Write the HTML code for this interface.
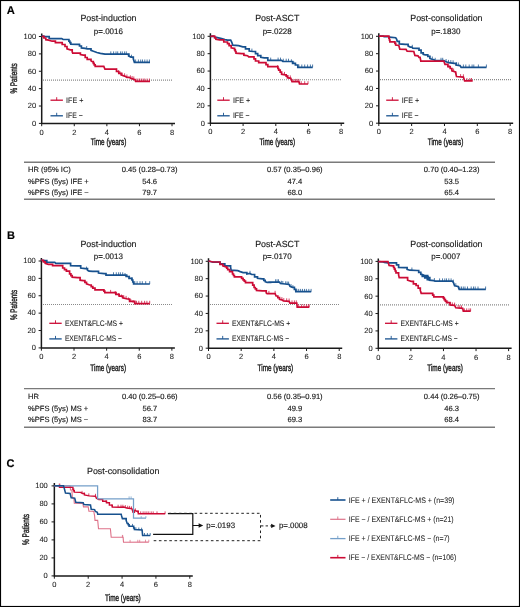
<!DOCTYPE html>
<html><head><meta charset="utf-8"><style>
html,body{margin:0;padding:0;background:#fff;width:520px;height:607px;overflow:hidden;position:relative}
svg text{font-family:"Liberation Sans", sans-serif}
svg{will-change:transform;text-rendering:geometricPrecision}
svg text{stroke:#1a1a1a;stroke-width:0.15px;paint-order:stroke}
</style></head><body>
<svg width="520" height="607" viewBox="0 0 520 607" style="position:absolute;left:0;top:0" font-family='"Liberation Sans", sans-serif'>
<rect x="0" y="0" width="520" height="607" fill="#fff"/>
<rect x="0.5" y="0.5" width="519" height="606" fill="none" stroke="#000" stroke-width="1.15"/>
<text x="6.70" y="14.40" font-size="11.2" text-anchor="start" font-weight="bold" fill="#000" >A</text>
<text x="6.90" y="239.30" font-size="11.0" text-anchor="start" font-weight="bold" fill="#000" >B</text>
<text x="6.60" y="467.20" font-size="11.0" text-anchor="start" font-weight="bold" fill="#000" >C</text>
<line x1="43" y1="80.15" x2="173" y2="80.15" stroke="#8a8a8a" stroke-width="1.1" stroke-dasharray="1 1"/>
<path d="M41.70 33.50 V123.40 H175.02" fill="none" stroke="#1a1a1a" stroke-width="1.5"/>
<line x1="38.90" y1="123.40" x2="41.70" y2="123.40" stroke="#1a1a1a" stroke-width="1"/>
<text x="36.10" y="125.75" font-size="7.5" text-anchor="end" font-weight="normal" fill="#1a1a1a" style="stroke-width:0.08px">0</text>
<line x1="38.90" y1="106.02" x2="41.70" y2="106.02" stroke="#1a1a1a" stroke-width="1"/>
<text x="36.10" y="108.37" font-size="7.5" text-anchor="end" font-weight="normal" fill="#1a1a1a" style="stroke-width:0.08px">20</text>
<line x1="38.90" y1="88.64" x2="41.70" y2="88.64" stroke="#1a1a1a" stroke-width="1"/>
<text x="36.10" y="90.99" font-size="7.5" text-anchor="end" font-weight="normal" fill="#1a1a1a" style="stroke-width:0.08px">40</text>
<line x1="38.90" y1="71.26" x2="41.70" y2="71.26" stroke="#1a1a1a" stroke-width="1"/>
<text x="36.10" y="73.61" font-size="7.5" text-anchor="end" font-weight="normal" fill="#1a1a1a" style="stroke-width:0.08px">60</text>
<line x1="38.90" y1="53.88" x2="41.70" y2="53.88" stroke="#1a1a1a" stroke-width="1"/>
<text x="36.10" y="56.23" font-size="7.5" text-anchor="end" font-weight="normal" fill="#1a1a1a" style="stroke-width:0.08px">80</text>
<line x1="38.90" y1="36.50" x2="41.70" y2="36.50" stroke="#1a1a1a" stroke-width="1"/>
<text x="36.10" y="38.85" font-size="7.5" text-anchor="end" font-weight="normal" fill="#1a1a1a" style="stroke-width:0.08px">100</text>
<line x1="41.70" y1="123.40" x2="41.70" y2="126.20" stroke="#1a1a1a" stroke-width="1"/>
<text x="41.70" y="134.60" font-size="7.5" text-anchor="middle" font-weight="normal" fill="#1a1a1a" style="stroke-width:0.08px">0</text>
<line x1="74.28" y1="123.40" x2="74.28" y2="126.20" stroke="#1a1a1a" stroke-width="1"/>
<text x="74.28" y="134.60" font-size="7.5" text-anchor="middle" font-weight="normal" fill="#1a1a1a" style="stroke-width:0.08px">2</text>
<line x1="106.86" y1="123.40" x2="106.86" y2="126.20" stroke="#1a1a1a" stroke-width="1"/>
<text x="106.86" y="134.60" font-size="7.5" text-anchor="middle" font-weight="normal" fill="#1a1a1a" style="stroke-width:0.08px">4</text>
<line x1="139.44" y1="123.40" x2="139.44" y2="126.20" stroke="#1a1a1a" stroke-width="1"/>
<text x="139.44" y="134.60" font-size="7.5" text-anchor="middle" font-weight="normal" fill="#1a1a1a" style="stroke-width:0.08px">6</text>
<line x1="172.02" y1="123.40" x2="172.02" y2="126.20" stroke="#1a1a1a" stroke-width="1"/>
<text x="172.02" y="134.60" font-size="7.5" text-anchor="middle" font-weight="normal" fill="#1a1a1a" style="stroke-width:0.08px">8</text>
<text x="108.50" y="21.20" font-size="8.85" text-anchor="middle" font-weight="normal" fill="#1a1a1a" >Post-induction</text>
<text x="108.40" y="33.50" font-size="8" text-anchor="middle" font-weight="normal" fill="#1a1a1a" >p=.0016</text>
<line x1="212" y1="79.8" x2="342" y2="79.8" stroke="#8a8a8a" stroke-width="1.1" stroke-dasharray="1 1"/>
<path d="M210.40 33.30 V123.20 H344.20" fill="none" stroke="#1a1a1a" stroke-width="1.5"/>
<line x1="207.60" y1="123.20" x2="210.40" y2="123.20" stroke="#1a1a1a" stroke-width="1"/>
<text x="204.80" y="125.55" font-size="7.5" text-anchor="end" font-weight="normal" fill="#1a1a1a" style="stroke-width:0.08px">0</text>
<line x1="207.60" y1="105.82" x2="210.40" y2="105.82" stroke="#1a1a1a" stroke-width="1"/>
<text x="204.80" y="108.17" font-size="7.5" text-anchor="end" font-weight="normal" fill="#1a1a1a" style="stroke-width:0.08px">20</text>
<line x1="207.60" y1="88.44" x2="210.40" y2="88.44" stroke="#1a1a1a" stroke-width="1"/>
<text x="204.80" y="90.79" font-size="7.5" text-anchor="end" font-weight="normal" fill="#1a1a1a" style="stroke-width:0.08px">40</text>
<line x1="207.60" y1="71.06" x2="210.40" y2="71.06" stroke="#1a1a1a" stroke-width="1"/>
<text x="204.80" y="73.41" font-size="7.5" text-anchor="end" font-weight="normal" fill="#1a1a1a" style="stroke-width:0.08px">60</text>
<line x1="207.60" y1="53.68" x2="210.40" y2="53.68" stroke="#1a1a1a" stroke-width="1"/>
<text x="204.80" y="56.03" font-size="7.5" text-anchor="end" font-weight="normal" fill="#1a1a1a" style="stroke-width:0.08px">80</text>
<line x1="207.60" y1="36.30" x2="210.40" y2="36.30" stroke="#1a1a1a" stroke-width="1"/>
<text x="204.80" y="38.65" font-size="7.5" text-anchor="end" font-weight="normal" fill="#1a1a1a" style="stroke-width:0.08px">100</text>
<line x1="210.40" y1="123.20" x2="210.40" y2="126.00" stroke="#1a1a1a" stroke-width="1"/>
<text x="210.40" y="134.40" font-size="7.5" text-anchor="middle" font-weight="normal" fill="#1a1a1a" style="stroke-width:0.08px">0</text>
<line x1="243.10" y1="123.20" x2="243.10" y2="126.00" stroke="#1a1a1a" stroke-width="1"/>
<text x="243.10" y="134.40" font-size="7.5" text-anchor="middle" font-weight="normal" fill="#1a1a1a" style="stroke-width:0.08px">2</text>
<line x1="275.80" y1="123.20" x2="275.80" y2="126.00" stroke="#1a1a1a" stroke-width="1"/>
<text x="275.80" y="134.40" font-size="7.5" text-anchor="middle" font-weight="normal" fill="#1a1a1a" style="stroke-width:0.08px">4</text>
<line x1="308.50" y1="123.20" x2="308.50" y2="126.00" stroke="#1a1a1a" stroke-width="1"/>
<text x="308.50" y="134.40" font-size="7.5" text-anchor="middle" font-weight="normal" fill="#1a1a1a" style="stroke-width:0.08px">6</text>
<line x1="341.20" y1="123.20" x2="341.20" y2="126.00" stroke="#1a1a1a" stroke-width="1"/>
<text x="341.20" y="134.40" font-size="7.5" text-anchor="middle" font-weight="normal" fill="#1a1a1a" style="stroke-width:0.08px">8</text>
<text x="277.30" y="21.20" font-size="8.85" text-anchor="middle" font-weight="normal" fill="#1a1a1a" >Post-ASCT</text>
<text x="277.20" y="33.50" font-size="8" text-anchor="middle" font-weight="normal" fill="#1a1a1a" >p=.0228</text>
<line x1="380" y1="79.6" x2="511" y2="79.6" stroke="#8a8a8a" stroke-width="1.1" stroke-dasharray="1 1"/>
<path d="M378.80 33.30 V123.20 H513.16" fill="none" stroke="#1a1a1a" stroke-width="1.5"/>
<line x1="376.00" y1="123.20" x2="378.80" y2="123.20" stroke="#1a1a1a" stroke-width="1"/>
<text x="373.20" y="125.55" font-size="7.5" text-anchor="end" font-weight="normal" fill="#1a1a1a" style="stroke-width:0.08px">0</text>
<line x1="376.00" y1="105.82" x2="378.80" y2="105.82" stroke="#1a1a1a" stroke-width="1"/>
<text x="373.20" y="108.17" font-size="7.5" text-anchor="end" font-weight="normal" fill="#1a1a1a" style="stroke-width:0.08px">20</text>
<line x1="376.00" y1="88.44" x2="378.80" y2="88.44" stroke="#1a1a1a" stroke-width="1"/>
<text x="373.20" y="90.79" font-size="7.5" text-anchor="end" font-weight="normal" fill="#1a1a1a" style="stroke-width:0.08px">40</text>
<line x1="376.00" y1="71.06" x2="378.80" y2="71.06" stroke="#1a1a1a" stroke-width="1"/>
<text x="373.20" y="73.41" font-size="7.5" text-anchor="end" font-weight="normal" fill="#1a1a1a" style="stroke-width:0.08px">60</text>
<line x1="376.00" y1="53.68" x2="378.80" y2="53.68" stroke="#1a1a1a" stroke-width="1"/>
<text x="373.20" y="56.03" font-size="7.5" text-anchor="end" font-weight="normal" fill="#1a1a1a" style="stroke-width:0.08px">80</text>
<line x1="376.00" y1="36.30" x2="378.80" y2="36.30" stroke="#1a1a1a" stroke-width="1"/>
<text x="373.20" y="38.65" font-size="7.5" text-anchor="end" font-weight="normal" fill="#1a1a1a" style="stroke-width:0.08px">100</text>
<line x1="378.80" y1="123.20" x2="378.80" y2="126.00" stroke="#1a1a1a" stroke-width="1"/>
<text x="378.80" y="134.40" font-size="7.5" text-anchor="middle" font-weight="normal" fill="#1a1a1a" style="stroke-width:0.08px">0</text>
<line x1="411.64" y1="123.20" x2="411.64" y2="126.00" stroke="#1a1a1a" stroke-width="1"/>
<text x="411.64" y="134.40" font-size="7.5" text-anchor="middle" font-weight="normal" fill="#1a1a1a" style="stroke-width:0.08px">2</text>
<line x1="444.48" y1="123.20" x2="444.48" y2="126.00" stroke="#1a1a1a" stroke-width="1"/>
<text x="444.48" y="134.40" font-size="7.5" text-anchor="middle" font-weight="normal" fill="#1a1a1a" style="stroke-width:0.08px">4</text>
<line x1="477.32" y1="123.20" x2="477.32" y2="126.00" stroke="#1a1a1a" stroke-width="1"/>
<text x="477.32" y="134.40" font-size="7.5" text-anchor="middle" font-weight="normal" fill="#1a1a1a" style="stroke-width:0.08px">6</text>
<line x1="510.16" y1="123.20" x2="510.16" y2="126.00" stroke="#1a1a1a" stroke-width="1"/>
<text x="510.16" y="134.40" font-size="7.5" text-anchor="middle" font-weight="normal" fill="#1a1a1a" style="stroke-width:0.08px">8</text>
<text x="446.40" y="21.20" font-size="8.85" text-anchor="middle" font-weight="normal" fill="#1a1a1a" >Post-consolidation</text>
<text x="445.80" y="33.50" font-size="8" text-anchor="middle" font-weight="normal" fill="#1a1a1a" >p=.1830</text>
<line x1="43" y1="304.5" x2="173" y2="304.5" stroke="#8a8a8a" stroke-width="1.1" stroke-dasharray="1 1"/>
<path d="M41.40 258.00 V347.90 H174.88" fill="none" stroke="#1a1a1a" stroke-width="1.5"/>
<line x1="38.60" y1="347.90" x2="41.40" y2="347.90" stroke="#1a1a1a" stroke-width="1"/>
<text x="35.80" y="350.25" font-size="7.5" text-anchor="end" font-weight="normal" fill="#1a1a1a" style="stroke-width:0.08px">0</text>
<line x1="38.60" y1="330.52" x2="41.40" y2="330.52" stroke="#1a1a1a" stroke-width="1"/>
<text x="35.80" y="332.87" font-size="7.5" text-anchor="end" font-weight="normal" fill="#1a1a1a" style="stroke-width:0.08px">20</text>
<line x1="38.60" y1="313.14" x2="41.40" y2="313.14" stroke="#1a1a1a" stroke-width="1"/>
<text x="35.80" y="315.49" font-size="7.5" text-anchor="end" font-weight="normal" fill="#1a1a1a" style="stroke-width:0.08px">40</text>
<line x1="38.60" y1="295.76" x2="41.40" y2="295.76" stroke="#1a1a1a" stroke-width="1"/>
<text x="35.80" y="298.11" font-size="7.5" text-anchor="end" font-weight="normal" fill="#1a1a1a" style="stroke-width:0.08px">60</text>
<line x1="38.60" y1="278.38" x2="41.40" y2="278.38" stroke="#1a1a1a" stroke-width="1"/>
<text x="35.80" y="280.73" font-size="7.5" text-anchor="end" font-weight="normal" fill="#1a1a1a" style="stroke-width:0.08px">80</text>
<line x1="38.60" y1="261.00" x2="41.40" y2="261.00" stroke="#1a1a1a" stroke-width="1"/>
<text x="35.80" y="263.35" font-size="7.5" text-anchor="end" font-weight="normal" fill="#1a1a1a" style="stroke-width:0.08px">100</text>
<line x1="41.40" y1="347.90" x2="41.40" y2="350.70" stroke="#1a1a1a" stroke-width="1"/>
<text x="41.40" y="359.10" font-size="7.5" text-anchor="middle" font-weight="normal" fill="#1a1a1a" style="stroke-width:0.08px">0</text>
<line x1="74.02" y1="347.90" x2="74.02" y2="350.70" stroke="#1a1a1a" stroke-width="1"/>
<text x="74.02" y="359.10" font-size="7.5" text-anchor="middle" font-weight="normal" fill="#1a1a1a" style="stroke-width:0.08px">2</text>
<line x1="106.64" y1="347.90" x2="106.64" y2="350.70" stroke="#1a1a1a" stroke-width="1"/>
<text x="106.64" y="359.10" font-size="7.5" text-anchor="middle" font-weight="normal" fill="#1a1a1a" style="stroke-width:0.08px">4</text>
<line x1="139.26" y1="347.90" x2="139.26" y2="350.70" stroke="#1a1a1a" stroke-width="1"/>
<text x="139.26" y="359.10" font-size="7.5" text-anchor="middle" font-weight="normal" fill="#1a1a1a" style="stroke-width:0.08px">6</text>
<line x1="171.88" y1="347.90" x2="171.88" y2="350.70" stroke="#1a1a1a" stroke-width="1"/>
<text x="171.88" y="359.10" font-size="7.5" text-anchor="middle" font-weight="normal" fill="#1a1a1a" style="stroke-width:0.08px">8</text>
<text x="108.50" y="246.60" font-size="8.85" text-anchor="middle" font-weight="normal" fill="#1a1a1a" >Post-induction</text>
<text x="108.40" y="258.90" font-size="8" text-anchor="middle" font-weight="normal" fill="#1a1a1a" >p=.0013</text>
<line x1="210" y1="304.5" x2="340" y2="304.5" stroke="#8a8a8a" stroke-width="1.1" stroke-dasharray="1 1"/>
<path d="M208.50 258.30 V348.20 H342.22" fill="none" stroke="#1a1a1a" stroke-width="1.5"/>
<line x1="205.70" y1="348.20" x2="208.50" y2="348.20" stroke="#1a1a1a" stroke-width="1"/>
<text x="202.90" y="350.55" font-size="7.5" text-anchor="end" font-weight="normal" fill="#1a1a1a" style="stroke-width:0.08px">0</text>
<line x1="205.70" y1="330.82" x2="208.50" y2="330.82" stroke="#1a1a1a" stroke-width="1"/>
<text x="202.90" y="333.17" font-size="7.5" text-anchor="end" font-weight="normal" fill="#1a1a1a" style="stroke-width:0.08px">20</text>
<line x1="205.70" y1="313.44" x2="208.50" y2="313.44" stroke="#1a1a1a" stroke-width="1"/>
<text x="202.90" y="315.79" font-size="7.5" text-anchor="end" font-weight="normal" fill="#1a1a1a" style="stroke-width:0.08px">40</text>
<line x1="205.70" y1="296.06" x2="208.50" y2="296.06" stroke="#1a1a1a" stroke-width="1"/>
<text x="202.90" y="298.41" font-size="7.5" text-anchor="end" font-weight="normal" fill="#1a1a1a" style="stroke-width:0.08px">60</text>
<line x1="205.70" y1="278.68" x2="208.50" y2="278.68" stroke="#1a1a1a" stroke-width="1"/>
<text x="202.90" y="281.03" font-size="7.5" text-anchor="end" font-weight="normal" fill="#1a1a1a" style="stroke-width:0.08px">80</text>
<line x1="205.70" y1="261.30" x2="208.50" y2="261.30" stroke="#1a1a1a" stroke-width="1"/>
<text x="202.90" y="263.65" font-size="7.5" text-anchor="end" font-weight="normal" fill="#1a1a1a" style="stroke-width:0.08px">100</text>
<line x1="208.50" y1="348.20" x2="208.50" y2="351.00" stroke="#1a1a1a" stroke-width="1"/>
<text x="208.50" y="359.40" font-size="7.5" text-anchor="middle" font-weight="normal" fill="#1a1a1a" style="stroke-width:0.08px">0</text>
<line x1="241.18" y1="348.20" x2="241.18" y2="351.00" stroke="#1a1a1a" stroke-width="1"/>
<text x="241.18" y="359.40" font-size="7.5" text-anchor="middle" font-weight="normal" fill="#1a1a1a" style="stroke-width:0.08px">2</text>
<line x1="273.86" y1="348.20" x2="273.86" y2="351.00" stroke="#1a1a1a" stroke-width="1"/>
<text x="273.86" y="359.40" font-size="7.5" text-anchor="middle" font-weight="normal" fill="#1a1a1a" style="stroke-width:0.08px">4</text>
<line x1="306.54" y1="348.20" x2="306.54" y2="351.00" stroke="#1a1a1a" stroke-width="1"/>
<text x="306.54" y="359.40" font-size="7.5" text-anchor="middle" font-weight="normal" fill="#1a1a1a" style="stroke-width:0.08px">6</text>
<line x1="339.22" y1="348.20" x2="339.22" y2="351.00" stroke="#1a1a1a" stroke-width="1"/>
<text x="339.22" y="359.40" font-size="7.5" text-anchor="middle" font-weight="normal" fill="#1a1a1a" style="stroke-width:0.08px">8</text>
<text x="277.30" y="246.60" font-size="8.85" text-anchor="middle" font-weight="normal" fill="#1a1a1a" >Post-ASCT</text>
<text x="277.20" y="258.90" font-size="8" text-anchor="middle" font-weight="normal" fill="#1a1a1a" >p=.0170</text>
<line x1="380" y1="304.9" x2="510" y2="304.9" stroke="#8a8a8a" stroke-width="1.1" stroke-dasharray="1 1"/>
<path d="M378.30 258.40 V348.30 H511.62" fill="none" stroke="#1a1a1a" stroke-width="1.5"/>
<line x1="375.50" y1="348.30" x2="378.30" y2="348.30" stroke="#1a1a1a" stroke-width="1"/>
<text x="372.70" y="350.65" font-size="7.5" text-anchor="end" font-weight="normal" fill="#1a1a1a" style="stroke-width:0.08px">0</text>
<line x1="375.50" y1="330.92" x2="378.30" y2="330.92" stroke="#1a1a1a" stroke-width="1"/>
<text x="372.70" y="333.27" font-size="7.5" text-anchor="end" font-weight="normal" fill="#1a1a1a" style="stroke-width:0.08px">20</text>
<line x1="375.50" y1="313.54" x2="378.30" y2="313.54" stroke="#1a1a1a" stroke-width="1"/>
<text x="372.70" y="315.89" font-size="7.5" text-anchor="end" font-weight="normal" fill="#1a1a1a" style="stroke-width:0.08px">40</text>
<line x1="375.50" y1="296.16" x2="378.30" y2="296.16" stroke="#1a1a1a" stroke-width="1"/>
<text x="372.70" y="298.51" font-size="7.5" text-anchor="end" font-weight="normal" fill="#1a1a1a" style="stroke-width:0.08px">60</text>
<line x1="375.50" y1="278.78" x2="378.30" y2="278.78" stroke="#1a1a1a" stroke-width="1"/>
<text x="372.70" y="281.13" font-size="7.5" text-anchor="end" font-weight="normal" fill="#1a1a1a" style="stroke-width:0.08px">80</text>
<line x1="375.50" y1="261.40" x2="378.30" y2="261.40" stroke="#1a1a1a" stroke-width="1"/>
<text x="372.70" y="263.75" font-size="7.5" text-anchor="end" font-weight="normal" fill="#1a1a1a" style="stroke-width:0.08px">100</text>
<line x1="378.30" y1="348.30" x2="378.30" y2="351.10" stroke="#1a1a1a" stroke-width="1"/>
<text x="378.30" y="359.50" font-size="7.5" text-anchor="middle" font-weight="normal" fill="#1a1a1a" style="stroke-width:0.08px">0</text>
<line x1="410.88" y1="348.30" x2="410.88" y2="351.10" stroke="#1a1a1a" stroke-width="1"/>
<text x="410.88" y="359.50" font-size="7.5" text-anchor="middle" font-weight="normal" fill="#1a1a1a" style="stroke-width:0.08px">2</text>
<line x1="443.46" y1="348.30" x2="443.46" y2="351.10" stroke="#1a1a1a" stroke-width="1"/>
<text x="443.46" y="359.50" font-size="7.5" text-anchor="middle" font-weight="normal" fill="#1a1a1a" style="stroke-width:0.08px">4</text>
<line x1="476.04" y1="348.30" x2="476.04" y2="351.10" stroke="#1a1a1a" stroke-width="1"/>
<text x="476.04" y="359.50" font-size="7.5" text-anchor="middle" font-weight="normal" fill="#1a1a1a" style="stroke-width:0.08px">6</text>
<line x1="508.62" y1="348.30" x2="508.62" y2="351.10" stroke="#1a1a1a" stroke-width="1"/>
<text x="508.62" y="359.50" font-size="7.5" text-anchor="middle" font-weight="normal" fill="#1a1a1a" style="stroke-width:0.08px">8</text>
<text x="446.40" y="246.60" font-size="8.85" text-anchor="middle" font-weight="normal" fill="#1a1a1a" >Post-consolidation</text>
<text x="445.80" y="258.90" font-size="8" text-anchor="middle" font-weight="normal" fill="#1a1a1a" >p=.0007</text>
<path d="M54.35 482.90 V575.90 H192.79" fill="none" stroke="#1a1a1a" stroke-width="1.5"/>
<line x1="51.55" y1="575.90" x2="54.35" y2="575.90" stroke="#1a1a1a" stroke-width="1"/>
<text x="47.75" y="578.25" font-size="7.5" text-anchor="end" font-weight="normal" fill="#1a1a1a" style="stroke-width:0.08px">0</text>
<line x1="51.55" y1="557.90" x2="54.35" y2="557.90" stroke="#1a1a1a" stroke-width="1"/>
<text x="47.75" y="560.25" font-size="7.5" text-anchor="end" font-weight="normal" fill="#1a1a1a" style="stroke-width:0.08px">20</text>
<line x1="51.55" y1="539.90" x2="54.35" y2="539.90" stroke="#1a1a1a" stroke-width="1"/>
<text x="47.75" y="542.25" font-size="7.5" text-anchor="end" font-weight="normal" fill="#1a1a1a" style="stroke-width:0.08px">40</text>
<line x1="51.55" y1="521.90" x2="54.35" y2="521.90" stroke="#1a1a1a" stroke-width="1"/>
<text x="47.75" y="524.25" font-size="7.5" text-anchor="end" font-weight="normal" fill="#1a1a1a" style="stroke-width:0.08px">60</text>
<line x1="51.55" y1="503.90" x2="54.35" y2="503.90" stroke="#1a1a1a" stroke-width="1"/>
<text x="47.75" y="506.25" font-size="7.5" text-anchor="end" font-weight="normal" fill="#1a1a1a" style="stroke-width:0.08px">80</text>
<line x1="51.55" y1="485.90" x2="54.35" y2="485.90" stroke="#1a1a1a" stroke-width="1"/>
<text x="47.75" y="488.25" font-size="7.5" text-anchor="end" font-weight="normal" fill="#1a1a1a" style="stroke-width:0.08px">100</text>
<line x1="54.35" y1="575.90" x2="54.35" y2="578.70" stroke="#1a1a1a" stroke-width="1"/>
<text x="54.35" y="587.10" font-size="7.5" text-anchor="middle" font-weight="normal" fill="#1a1a1a" style="stroke-width:0.08px">0</text>
<line x1="88.21" y1="575.90" x2="88.21" y2="578.70" stroke="#1a1a1a" stroke-width="1"/>
<text x="88.21" y="587.10" font-size="7.5" text-anchor="middle" font-weight="normal" fill="#1a1a1a" style="stroke-width:0.08px">2</text>
<line x1="122.07" y1="575.90" x2="122.07" y2="578.70" stroke="#1a1a1a" stroke-width="1"/>
<text x="122.07" y="587.10" font-size="7.5" text-anchor="middle" font-weight="normal" fill="#1a1a1a" style="stroke-width:0.08px">4</text>
<line x1="155.93" y1="575.90" x2="155.93" y2="578.70" stroke="#1a1a1a" stroke-width="1"/>
<text x="155.93" y="587.10" font-size="7.5" text-anchor="middle" font-weight="normal" fill="#1a1a1a" style="stroke-width:0.08px">6</text>
<line x1="189.79" y1="575.90" x2="189.79" y2="578.70" stroke="#1a1a1a" stroke-width="1"/>
<text x="189.79" y="587.10" font-size="7.5" text-anchor="middle" font-weight="normal" fill="#1a1a1a" style="stroke-width:0.08px">8</text>
<text x="123.20" y="474.20" font-size="8.85" text-anchor="middle" font-weight="normal" fill="#1a1a1a" >Post-consolidation</text>
<line x1="24" y1="162.3" x2="495" y2="162.3" stroke="#7a7a7a" stroke-width="1.4"/>
<line x1="24" y1="199.2" x2="495" y2="199.2" stroke="#7a7a7a" stroke-width="1.4"/>
<text x="28.10" y="172.30" font-size="7.55" text-anchor="start" font-weight="normal" fill="#1a1a1a" >HR (95% IC)</text>
<text x="28.10" y="183.80" font-size="7.55" text-anchor="start" font-weight="normal" fill="#1a1a1a" >%PFS (5ys) IFE +</text>
<text x="28.10" y="195.40" font-size="7.55" text-anchor="start" font-weight="normal" fill="#1a1a1a" >%PFS (5ys) IFE −</text>
<text x="149.60" y="172.30" font-size="7.6" text-anchor="middle" font-weight="normal" fill="#1a1a1a" >0.45 (0.28–0.73)</text>
<text x="149.60" y="183.80" font-size="7.6" text-anchor="middle" font-weight="normal" fill="#1a1a1a" >54.6</text>
<text x="149.60" y="195.40" font-size="7.6" text-anchor="middle" font-weight="normal" fill="#1a1a1a" >79.7</text>
<text x="294.80" y="172.30" font-size="7.6" text-anchor="middle" font-weight="normal" fill="#1a1a1a" >0.57 (0.35–0.96)</text>
<text x="294.80" y="183.80" font-size="7.6" text-anchor="middle" font-weight="normal" fill="#1a1a1a" >47.4</text>
<text x="294.80" y="195.40" font-size="7.6" text-anchor="middle" font-weight="normal" fill="#1a1a1a" >68.0</text>
<text x="451.70" y="172.30" font-size="7.6" text-anchor="middle" font-weight="normal" fill="#1a1a1a" >0.70 (0.40–1.23)</text>
<text x="451.70" y="183.80" font-size="7.6" text-anchor="middle" font-weight="normal" fill="#1a1a1a" >53.5</text>
<text x="451.70" y="195.40" font-size="7.6" text-anchor="middle" font-weight="normal" fill="#1a1a1a" >65.4</text>
<line x1="24" y1="388.6" x2="495" y2="388.6" stroke="#7a7a7a" stroke-width="1.4"/>
<line x1="24" y1="427.2" x2="495" y2="427.2" stroke="#7a7a7a" stroke-width="1.4"/>
<text x="28.10" y="398.80" font-size="7.55" text-anchor="start" font-weight="normal" fill="#1a1a1a" >HR</text>
<text x="28.10" y="410.90" font-size="7.55" text-anchor="start" font-weight="normal" fill="#1a1a1a" >%PFS (5ys) MS +</text>
<text x="28.10" y="422.10" font-size="7.55" text-anchor="start" font-weight="normal" fill="#1a1a1a" >%PFS (5ys) MS −</text>
<text x="149.80" y="398.80" font-size="7.6" text-anchor="middle" font-weight="normal" fill="#1a1a1a" >0.40 (0.25–0.66)</text>
<text x="149.80" y="410.90" font-size="7.6" text-anchor="middle" font-weight="normal" fill="#1a1a1a" >56.7</text>
<text x="149.80" y="422.10" font-size="7.6" text-anchor="middle" font-weight="normal" fill="#1a1a1a" >83.7</text>
<text x="294.80" y="398.80" font-size="7.6" text-anchor="middle" font-weight="normal" fill="#1a1a1a" >0.56 (0.35–0.91)</text>
<text x="294.80" y="410.90" font-size="7.6" text-anchor="middle" font-weight="normal" fill="#1a1a1a" >49.9</text>
<text x="294.80" y="422.10" font-size="7.6" text-anchor="middle" font-weight="normal" fill="#1a1a1a" >69.3</text>
<text x="451.70" y="398.80" font-size="7.6" text-anchor="middle" font-weight="normal" fill="#1a1a1a" >0.44 (0.26–0.75)</text>
<text x="451.70" y="410.90" font-size="7.6" text-anchor="middle" font-weight="normal" fill="#1a1a1a" >46.3</text>
<text x="451.70" y="422.10" font-size="7.6" text-anchor="middle" font-weight="normal" fill="#1a1a1a" >68.4</text>
<text x="90.65" y="145.40" font-size="9.6" textLength="35.7" lengthAdjust="spacingAndGlyphs" fill="#1a1a1a" style="stroke-width:0.4px">Time (years)</text>
<text x="259.45" y="145.40" font-size="9.6" textLength="35.7" lengthAdjust="spacingAndGlyphs" fill="#1a1a1a" style="stroke-width:0.4px">Time (years)</text>
<text x="427.75" y="145.40" font-size="9.6" textLength="35.7" lengthAdjust="spacingAndGlyphs" fill="#1a1a1a" style="stroke-width:0.4px">Time (years)</text>
<text x="90.35" y="370.60" font-size="9.6" textLength="35.7" lengthAdjust="spacingAndGlyphs" fill="#1a1a1a" style="stroke-width:0.4px">Time (years)</text>
<text x="257.55" y="370.60" font-size="9.6" textLength="35.7" lengthAdjust="spacingAndGlyphs" fill="#1a1a1a" style="stroke-width:0.4px">Time (years)</text>
<text x="427.25" y="370.60" font-size="9.6" textLength="35.7" lengthAdjust="spacingAndGlyphs" fill="#1a1a1a" style="stroke-width:0.4px">Time (years)</text>
<text x="105.05" y="600.50" font-size="9.6" textLength="35.7" lengthAdjust="spacingAndGlyphs" fill="#1a1a1a" style="stroke-width:0.4px">Time (years)</text>
<text transform="translate(17.00,93.60) rotate(-90)" x="0" y="0" font-size="9.6" textLength="30.4" lengthAdjust="spacingAndGlyphs" fill="#1a1a1a" style="stroke-width:0.4px">% Patients</text>
<text transform="translate(17.00,320.10) rotate(-90)" x="0" y="0" font-size="9.6" textLength="30.4" lengthAdjust="spacingAndGlyphs" fill="#1a1a1a" style="stroke-width:0.4px">% Patients</text>
<text transform="translate(29.20,545.00) rotate(-90)" x="0" y="0" font-size="9.6" textLength="31" lengthAdjust="spacingAndGlyphs" fill="#1a1a1a" style="stroke-width:0.4px">% Patients</text>
<line x1="50.50" y1="100.20" x2="62.90" y2="100.20" stroke="#cc0b35" stroke-width="1.3"/>
<line x1="56.70" y1="100.20" x2="56.70" y2="97.20" stroke="#cc0b35" stroke-width="0.9"/>
<text x="66.10" y="102.60" font-size="8.0" textLength="17.3" lengthAdjust="spacingAndGlyphs" fill="#1a1a1a" style="stroke-width:0.08px">IFE +</text>
<line x1="50.50" y1="115.80" x2="62.90" y2="115.80" stroke="#17518e" stroke-width="1.3"/>
<line x1="56.70" y1="115.80" x2="56.70" y2="112.80" stroke="#17518e" stroke-width="0.9"/>
<text x="66.10" y="118.20" font-size="8.0" textLength="16.6" lengthAdjust="spacingAndGlyphs" fill="#1a1a1a" style="stroke-width:0.08px">IFE −</text>
<line x1="217.30" y1="100.20" x2="229.70" y2="100.20" stroke="#cc0b35" stroke-width="1.3"/>
<line x1="223.50" y1="100.20" x2="223.50" y2="97.20" stroke="#cc0b35" stroke-width="0.9"/>
<text x="232.90" y="102.60" font-size="8.0" textLength="17.3" lengthAdjust="spacingAndGlyphs" fill="#1a1a1a" style="stroke-width:0.08px">IFE +</text>
<line x1="217.30" y1="115.80" x2="229.70" y2="115.80" stroke="#17518e" stroke-width="1.3"/>
<line x1="223.50" y1="115.80" x2="223.50" y2="112.80" stroke="#17518e" stroke-width="0.9"/>
<text x="232.90" y="118.20" font-size="8.0" textLength="16.6" lengthAdjust="spacingAndGlyphs" fill="#1a1a1a" style="stroke-width:0.08px">IFE −</text>
<line x1="386.20" y1="100.20" x2="398.60" y2="100.20" stroke="#cc0b35" stroke-width="1.3"/>
<line x1="392.40" y1="100.20" x2="392.40" y2="97.20" stroke="#cc0b35" stroke-width="0.9"/>
<text x="401.80" y="102.60" font-size="8.0" textLength="17.3" lengthAdjust="spacingAndGlyphs" fill="#1a1a1a" style="stroke-width:0.08px">IFE +</text>
<line x1="386.20" y1="115.80" x2="398.60" y2="115.80" stroke="#17518e" stroke-width="1.3"/>
<line x1="392.40" y1="115.80" x2="392.40" y2="112.80" stroke="#17518e" stroke-width="0.9"/>
<text x="401.80" y="118.20" font-size="8.0" textLength="16.6" lengthAdjust="spacingAndGlyphs" fill="#1a1a1a" style="stroke-width:0.08px">IFE −</text>
<line x1="49.30" y1="323.30" x2="61.70" y2="323.30" stroke="#cc0b35" stroke-width="1.3"/>
<line x1="55.50" y1="323.30" x2="55.50" y2="320.30" stroke="#cc0b35" stroke-width="0.9"/>
<text x="64.90" y="325.70" font-size="8.0" textLength="58.0" lengthAdjust="spacingAndGlyphs" fill="#1a1a1a" style="stroke-width:0.08px">EXENT&amp;FLC-MS +</text>
<line x1="49.30" y1="338.90" x2="61.70" y2="338.90" stroke="#17518e" stroke-width="1.3"/>
<line x1="55.50" y1="338.90" x2="55.50" y2="335.90" stroke="#17518e" stroke-width="0.9"/>
<text x="64.90" y="341.30" font-size="8.0" textLength="57.0" lengthAdjust="spacingAndGlyphs" fill="#1a1a1a" style="stroke-width:0.08px">EXENT&amp;FLC-MS −</text>
<line x1="216.50" y1="323.30" x2="228.90" y2="323.30" stroke="#cc0b35" stroke-width="1.3"/>
<line x1="222.70" y1="323.30" x2="222.70" y2="320.30" stroke="#cc0b35" stroke-width="0.9"/>
<text x="232.10" y="325.70" font-size="8.0" textLength="58.0" lengthAdjust="spacingAndGlyphs" fill="#1a1a1a" style="stroke-width:0.08px">EXENT&amp;FLC-MS +</text>
<line x1="216.50" y1="338.90" x2="228.90" y2="338.90" stroke="#17518e" stroke-width="1.3"/>
<line x1="222.70" y1="338.90" x2="222.70" y2="335.90" stroke="#17518e" stroke-width="0.9"/>
<text x="232.10" y="341.30" font-size="8.0" textLength="57.0" lengthAdjust="spacingAndGlyphs" fill="#1a1a1a" style="stroke-width:0.08px">EXENT&amp;FLC-MS −</text>
<line x1="385.00" y1="323.30" x2="397.40" y2="323.30" stroke="#cc0b35" stroke-width="1.3"/>
<line x1="391.20" y1="323.30" x2="391.20" y2="320.30" stroke="#cc0b35" stroke-width="0.9"/>
<text x="400.60" y="325.70" font-size="8.0" textLength="58.0" lengthAdjust="spacingAndGlyphs" fill="#1a1a1a" style="stroke-width:0.08px">EXENT&amp;FLC-MS +</text>
<line x1="385.00" y1="338.90" x2="397.40" y2="338.90" stroke="#17518e" stroke-width="1.3"/>
<line x1="391.20" y1="338.90" x2="391.20" y2="335.90" stroke="#17518e" stroke-width="0.9"/>
<text x="400.60" y="341.30" font-size="8.0" textLength="57.0" lengthAdjust="spacingAndGlyphs" fill="#1a1a1a" style="stroke-width:0.08px">EXENT&amp;FLC-MS −</text>
<path d="M167.9 513.6 H192.8 V534.4 H153.1" fill="none" stroke="#111" stroke-width="1.2"/>
<line x1="192.8" y1="525.5" x2="199" y2="525.5" stroke="#111" stroke-width="1"/>
<path d="M198.6 523.3 L203.2 525.5 L198.6 527.7 Z" fill="#111"/>
<text x="206.30" y="527.80" font-size="7.9" text-anchor="start" font-weight="normal" fill="#1a1a1a" >p=.0193</text>
<path d="M168.5 513.3 H260.5 V540.7 H152.5" fill="none" stroke="#222" stroke-width="1" stroke-dasharray="2.6 2.6"/>
<line x1="261" y1="525.9" x2="271.5" y2="525.9" stroke="#222" stroke-width="1" stroke-dasharray="2.4 2.2"/>
<path d="M271.1 523.8 L275.5 525.9 L271.1 528.0 Z" fill="#111"/>
<text x="278.90" y="528.00" font-size="7.9" text-anchor="start" font-weight="normal" fill="#1a1a1a" >p=.0008</text>
<line x1="330.2" y1="500.0" x2="345.5" y2="500.0" stroke="#17518e" stroke-width="1.6"/>
<line x1="337.8" y1="500.0" x2="337.8" y2="497.2" stroke="#17518e" stroke-width="0.9"/>
<text x="348.7" y="502.7" font-size="8.1" textLength="105.7" lengthAdjust="spacingAndGlyphs" fill="#1a1a1a" style="stroke-width:0.05px">IFE + / EXENT&amp;FLC-MS + (n=39)</text>
<line x1="330.2" y1="519.3" x2="345.5" y2="519.3" stroke="#de7289" stroke-width="1.2"/>
<line x1="337.8" y1="519.3" x2="337.8" y2="516.5" stroke="#de7289" stroke-width="0.9"/>
<text x="348.7" y="522.0" font-size="8.1" textLength="105.0" lengthAdjust="spacingAndGlyphs" fill="#1a1a1a" style="stroke-width:0.05px">IFE − / EXENT&amp;FLC-MS + (n=21)</text>
<line x1="330.2" y1="538.6" x2="345.5" y2="538.6" stroke="#749fc9" stroke-width="1.3"/>
<line x1="337.8" y1="538.6" x2="337.8" y2="535.8000000000001" stroke="#749fc9" stroke-width="0.9"/>
<text x="348.7" y="541.3000000000001" font-size="8.1" textLength="101.0" lengthAdjust="spacingAndGlyphs" fill="#1a1a1a" style="stroke-width:0.05px">IFE + / EXENT&amp;FLC-MS − (n=7)</text>
<line x1="330.2" y1="557.7" x2="345.5" y2="557.7" stroke="#cc0b35" stroke-width="1.6"/>
<line x1="337.8" y1="557.7" x2="337.8" y2="554.9000000000001" stroke="#cc0b35" stroke-width="0.9"/>
<text x="348.7" y="560.4000000000001" font-size="8.1" textLength="107.5" lengthAdjust="spacingAndGlyphs" fill="#1a1a1a" style="stroke-width:0.05px">IFE − / EXENT&amp;FLC-MS − (n=106)</text>
<path d="M41.7 36.2 L42.0 35.9 L44.4 36.4 L46.8 36.7 L49.2 36.7 L49.2 38.3 L50.6 38.6 L61.7 38.6 L63.1 39.5 L67.4 39.5 L68.9 39.5 L68.9 41.2 L69.8 41.2 L69.8 42.6 L70.8 42.6 L70.8 44.1 L77.5 44.3 L79.5 44.3 L79.5 46.0 L81.4 46.0 L81.4 47.9 L85.2 48.4 L87.2 48.9 L91.0 48.9 L91.0 50.3 L93.5 51.3 L96.9 52.5 L100.4 53.3 L105.0 54.2 L126.9 54.2 L128.6 54.2 L128.6 56.0 L130.9 57.1 L133.3 57.1 L133.3 58.8 L134.4 62.3 L150.0 62.3" fill="none" stroke="#17518e" stroke-width="1.7" stroke-linejoin="miter"/>
<path d="M86.7 48.8V46.0 M110.8 54.2V51.4 M113.6 54.2V51.4 M116.0 54.2V51.4 M117.7 54.2V51.4 M120.6 54.2V51.4 M122.3 54.2V51.4 M124.6 54.2V51.4 M126.3 54.2V51.4 M129.2 56.2V53.4 M131.5 57.5V54.7 M135.6 62.3V59.5 M138.4 62.3V59.5 M140.7 62.3V59.5 M142.5 62.3V59.5 M144.8 62.3V59.5 M147.1 62.3V59.5 M149.4 62.3V59.5" fill="none" stroke="#17518e" stroke-width="0.75"/>
<path d="M41.7 36.2 L42.0 36.4 L43.9 36.4 L43.9 38.0 L45.8 38.0 L45.8 39.7 L48.7 40.2 L52.1 41.2 L55.4 41.2 L55.4 42.6 L60.7 42.6 L62.2 42.6 L62.2 44.5 L65.0 44.5 L65.0 46.5 L67.0 46.5 L67.0 48.9 L70.3 49.8 L72.2 49.8 L72.2 51.8 L72.7 53.2 L77.5 53.2 L80.4 53.2 L80.4 54.6 L83.3 55.1 L85.2 55.1 L85.2 57.5 L87.2 57.5 L87.2 59.4 L91.0 59.4 L91.0 60.9 L92.3 61.7 L93.3 61.7 L93.3 63.3 L94.2 63.3 L94.2 64.8 L95.2 64.8 L95.2 66.3 L103.8 66.3 L105.0 69.2 L114.8 69.2 L116.5 69.2 L116.5 71.5 L118.8 71.5 L118.8 73.3 L121.1 73.3 L121.1 75.0 L124.6 76.1 L126.9 77.3 L129.2 77.3 L130.9 78.4 L135.0 79.6 L135.6 81.3 L150.0 81.3" fill="none" stroke="#cc0b35" stroke-width="1.7" stroke-linejoin="miter"/>
<path d="M116.5 71.5V68.7 M118.3 72.8V70.0 M120.0 74.1V71.3 M122.3 75.4V72.6 M124.6 76.1V73.3 M126.9 77.3V74.5 M130.4 78.1V75.3 M132.1 78.8V76.0 M133.8 79.3V76.5 M136.1 81.3V78.5 M137.9 81.3V78.5 M139.6 81.3V78.5 M141.3 81.3V78.5 M143.1 81.3V78.5 M144.8 81.3V78.5 M147.1 81.3V78.5 M149.4 81.3V78.5" fill="none" stroke="#cc0b35" stroke-width="0.75"/>
<path d="M210.4 36.4 L210.6 36.4 L213.2 36.2 L215.3 37.2 L218.5 37.8 L221.7 38.5 L224.9 39.6 L227.5 40.2 L230.7 40.2 L231.7 42.0 L232.8 45.2 L238.6 45.7 L242.8 46.8 L245.5 46.8 L245.5 48.9 L249.2 48.9 L249.2 51.0 L252.9 51.5 L255.5 51.5 L255.5 53.6 L257.7 53.6 L257.7 55.7 L260.8 55.7 L260.8 57.3 L264.3 57.8 L267.8 57.8 L267.8 60.4 L281.6 60.4 L282.8 61.5 L290.8 61.5 L292.6 61.5 L292.6 63.3 L295.4 63.3 L295.4 65.0 L297.8 65.0 L297.8 67.3 L312.7 67.3" fill="none" stroke="#17518e" stroke-width="1.7" stroke-linejoin="miter"/>
<path d="M251.9 51.4V48.6 M270.7 60.4V57.6 M278.1 60.4V57.6 M280.5 60.4V57.6 M283.3 61.5V58.7 M286.2 61.5V58.7 M288.5 61.5V58.7 M291.4 62.1V59.3 M293.7 64.0V61.2 M298.9 67.3V64.5 M301.8 67.3V64.5 M304.7 67.3V64.5 M307.6 67.3V64.5 M310.4 67.3V64.5 M312.6 67.3V64.5" fill="none" stroke="#17518e" stroke-width="0.75"/>
<path d="M210.4 36.4 L210.6 36.4 L213.2 36.2 L214.6 36.2 L214.6 37.8 L215.9 37.8 L215.9 39.3 L219.6 39.9 L223.8 39.9 L223.8 42.0 L227.5 42.0 L227.5 43.6 L229.1 43.6 L229.1 45.7 L231.2 45.7 L231.2 47.8 L233.9 48.3 L234.6 48.3 L234.6 49.9 L235.3 49.9 L235.3 51.5 L236.0 51.5 L236.0 53.1 L241.8 53.6 L243.9 53.6 L243.9 55.2 L247.6 55.7 L248.7 56.8 L252.4 56.8 L254.0 56.8 L254.0 58.9 L255.5 58.9 L255.5 61.0 L258.7 61.0 L258.7 62.6 L261.9 62.6 L264.3 62.7 L266.0 62.7 L266.0 64.7 L267.8 64.7 L267.8 66.7 L277.0 66.7 L277.9 66.7 L277.9 68.5 L278.7 68.5 L278.7 70.2 L280.2 70.2 L280.2 72.2 L281.6 72.2 L281.6 74.2 L285.1 74.8 L286.2 74.8 L286.2 76.2 L287.4 76.2 L287.4 77.7 L290.8 78.3 L292.0 81.7 L298.9 81.7 L299.5 84.0 L308.1 84.0" fill="none" stroke="#cc0b35" stroke-width="1.7" stroke-linejoin="miter"/>
<path d="M277.6 67.9V65.1 M284.5 74.7V71.9 M288.0 77.8V75.0 M290.3 78.2V75.4 M293.1 81.7V78.9 M295.4 81.7V78.9 M297.2 81.7V78.9 M298.9 81.7V78.9 M301.2 84.0V81.2 M304.7 84.0V81.2 M308.0 84.0V81.2" fill="none" stroke="#cc0b35" stroke-width="0.75"/>
<path d="M378.8 36.2 L379.0 36.2 L383.2 36.2 L384.2 36.7 L388.4 36.7 L389.4 37.2 L395.7 37.7 L396.7 39.3 L397.2 41.3 L399.3 41.3 L399.3 43.9 L405.5 44.3 L408.1 44.3 L408.1 46.0 L410.2 47.1 L411.8 47.1 L412.8 48.1 L417.5 48.4 L419.0 48.4 L419.0 50.2 L421.1 50.2 L421.1 52.8 L423.2 52.8 L423.2 54.3 L425.2 54.8 L427.8 54.8 L427.8 56.4 L429.9 56.4 L429.9 58.5 L432.0 59.2 L434.0 59.8 L435.2 60.6 L443.8 60.6 L445.6 61.5 L448.5 62.7 L454.2 63.3 L456.0 63.3 L456.0 65.0 L460.0 65.6 L461.1 67.3 L486.5 67.3" fill="none" stroke="#17518e" stroke-width="1.7" stroke-linejoin="miter"/>
<path d="M412.3 47.6V44.8 M432.3 59.3V56.5 M435.2 60.6V57.8 M441.0 60.6V57.8 M442.7 60.6V57.8 M446.1 61.8V59.0 M448.5 62.7V59.9 M450.8 62.9V60.1 M453.1 63.1V60.3 M456.5 65.1V62.3 M458.3 65.3V62.5 M463.4 67.3V64.5 M465.8 67.3V64.5 M469.2 67.3V64.5 M472.1 67.3V64.5 M473.8 67.3V64.5 M478.4 67.3V64.5 M486.4 67.3V64.5" fill="none" stroke="#17518e" stroke-width="0.75"/>
<path d="M378.8 36.2 L379.0 36.2 L388.4 36.2 L388.9 36.2 L388.9 38.1 L389.4 38.1 L389.4 40.0 L389.9 40.0 L389.9 41.9 L394.1 41.9 L394.9 41.9 L394.9 43.4 L395.7 43.4 L395.7 45.0 L398.8 45.5 L399.8 49.1 L406.0 49.4 L407.1 51.2 L413.8 51.5 L414.9 55.4 L418.0 55.9 L419.0 57.4 L420.1 57.4 L420.8 61.1 L432.0 61.1 L443.8 61.0 L445.0 64.4 L447.9 64.4 L447.9 66.7 L450.2 66.7 L450.2 68.5 L451.9 68.5 L451.9 70.8 L455.4 71.9 L456.5 76.5 L463.4 77.1 L464.6 80.8 L472.7 80.8" fill="none" stroke="#cc0b35" stroke-width="1.7" stroke-linejoin="miter"/>
<path d="M449.0 67.6V64.8 M453.6 71.3V68.5 M456.0 74.2V71.4 M460.6 76.9V74.1 M463.4 77.1V74.3 M466.9 80.8V78.0 M469.8 80.8V78.0 M471.5 80.8V78.0" fill="none" stroke="#cc0b35" stroke-width="0.75"/>
<path d="M41.4 260.5 L41.5 260.3 L45.2 260.6 L46.8 260.6 L46.8 262.2 L54.8 262.4 L55.8 263.3 L68.0 263.3 L70.6 263.3 L70.6 265.6 L77.5 265.9 L80.7 265.9 L80.7 268.0 L85.4 268.6 L87.5 268.6 L87.5 270.2 L89.1 271.2 L92.8 271.4 L95.0 271.3 L98.5 271.3 L98.5 273.1 L104.2 273.7 L106.0 273.7 L106.0 275.1 L123.8 275.1 L126.1 275.1 L126.1 276.5 L129.0 276.5 L129.0 278.3 L131.9 278.3 L131.9 280.0 L132.8 280.0 L132.8 282.0 L133.6 282.0 L133.6 284.0 L149.8 284.0" fill="none" stroke="#17518e" stroke-width="1.7" stroke-linejoin="miter"/>
<path d="M86.5 269.4V266.6 M113.5 275.1V272.3 M116.3 275.1V272.3 M118.6 275.1V272.3 M120.4 275.1V272.3 M122.7 275.1V272.3 M125.0 275.8V273.0 M127.3 277.2V274.4 M129.6 278.6V275.8 M131.9 280.0V277.2 M134.8 284.0V281.2 M137.1 284.0V281.2 M140.0 284.0V281.2 M142.3 284.0V281.2 M145.7 284.0V281.2 M149.7 284.0V281.2" fill="none" stroke="#17518e" stroke-width="0.75"/>
<path d="M41.4 260.5 L41.5 260.3 L43.4 260.3 L43.4 261.8 L45.2 261.8 L45.2 263.3 L48.4 264.3 L52.6 264.3 L52.6 265.6 L60.0 265.6 L62.7 265.6 L62.7 268.0 L64.5 268.0 L64.5 269.6 L66.4 269.6 L66.4 271.2 L69.6 271.2 L69.6 273.9 L70.9 273.9 L70.9 275.6 L72.2 275.6 L72.2 277.2 L77.5 277.6 L80.1 277.6 L80.1 280.2 L83.3 280.7 L84.9 280.7 L84.9 282.3 L86.5 282.3 L86.5 283.9 L89.7 285.0 L91.2 285.0 L91.2 286.6 L92.8 286.6 L92.8 288.1 L95.0 288.1 L95.0 289.8 L103.1 289.8 L103.9 289.8 L103.9 291.2 L104.8 291.2 L104.8 292.7 L114.0 292.7 L115.8 292.7 L115.8 294.4 L119.2 294.4 L119.2 296.1 L122.7 296.1 L122.7 297.9 L127.3 299.0 L129.6 299.0 L129.6 301.3 L134.8 301.3 L134.8 303.6 L149.8 303.6" fill="none" stroke="#cc0b35" stroke-width="1.7" stroke-linejoin="miter"/>
<path d="M110.6 292.7V289.9 M115.2 293.8V291.0 M116.3 294.7V291.9 M118.6 295.9V293.1 M121.5 297.3V294.5 M123.8 298.2V295.4 M126.1 298.7V295.9 M128.4 300.2V297.4 M130.8 301.8V299.0 M133.1 302.9V300.1 M136.5 303.6V300.8 M138.8 303.6V300.8 M141.7 303.6V300.8 M144.6 303.6V300.8 M146.9 303.6V300.8 M149.7 303.6V300.8" fill="none" stroke="#cc0b35" stroke-width="0.75"/>
<path d="M208.5 261.0 L213.0 262.2 L220.0 262.2 L220.0 263.9 L224.8 263.9 L224.8 265.8 L229.1 265.8 L230.6 265.8 L230.6 267.3 L231.1 270.2 L237.8 270.7 L240.2 271.6 L243.1 272.6 L246.9 272.6 L246.9 274.0 L249.8 273.5 L251.7 274.5 L254.6 274.5 L254.6 276.9 L257.5 276.9 L257.5 278.3 L262.3 278.8 L263.8 278.8 L263.8 280.3 L265.2 280.3 L265.2 281.7 L267.1 282.4 L270.0 282.4 L269.8 282.1 L279.5 282.1 L280.4 283.5 L285.2 284.0 L289.1 284.5 L290.0 286.4 L292.4 287.4 L294.4 287.4 L294.4 289.3 L295.8 289.3 L295.8 291.7 L311.2 291.7" fill="none" stroke="#17518e" stroke-width="1.7" stroke-linejoin="miter"/>
<path d="M250.0 273.6V270.8 M275.6 282.1V279.3 M277.1 282.1V279.3 M278.5 282.1V279.3 M281.4 283.6V280.8 M282.8 283.8V281.0 M285.7 284.1V281.3 M287.2 284.3V281.5 M288.6 284.4V281.6 M291.0 286.8V284.0 M292.9 287.9V285.1 M296.8 291.7V288.9 M298.7 291.7V288.9 M300.6 291.7V288.9 M302.5 291.7V288.9 M304.5 291.7V288.9 M306.4 291.7V288.9 M308.8 291.7V288.9 M311.1 291.7V288.9" fill="none" stroke="#17518e" stroke-width="0.75"/>
<path d="M208.5 261.0 L213.0 262.0 L220.0 262.0 L220.0 264.4 L222.9 264.4 L222.9 265.8 L225.8 266.8 L226.7 266.8 L226.7 268.2 L227.7 268.2 L227.7 269.7 L229.6 269.7 L229.6 271.6 L232.5 271.6 L232.5 274.0 L233.5 274.0 L233.5 275.5 L234.4 275.5 L234.4 276.9 L240.2 276.9 L241.6 276.9 L241.6 278.3 L243.1 278.3 L243.1 279.8 L244.3 279.8 L244.3 281.2 L245.5 281.2 L245.5 282.7 L250.8 282.7 L252.7 282.7 L252.7 285.1 L254.1 285.1 L254.1 287.5 L255.3 287.5 L255.3 288.9 L256.5 288.9 L256.5 290.4 L262.3 290.8 L266.2 290.8 L266.2 292.8 L267.1 293.7 L270.0 293.7 L269.8 293.6 L275.1 293.6 L276.1 296.0 L277.8 296.0 L277.8 297.7 L279.5 297.7 L279.5 299.4 L281.9 299.9 L283.3 300.8 L289.1 301.3 L290.0 303.2 L296.8 303.2 L297.2 307.1 L309.3 307.1" fill="none" stroke="#cc0b35" stroke-width="1.7" stroke-linejoin="miter"/>
<path d="M268.9 293.7V290.9 M275.1 293.6V290.8 M281.9 299.9V297.1 M283.8 300.9V298.1 M286.7 301.1V298.3 M289.1 301.3V298.5 M292.0 303.2V300.4 M294.4 303.2V300.4 M296.3 303.2V300.4 M298.7 307.1V304.3 M301.6 307.1V304.3 M304.0 307.1V304.3 M306.4 307.1V304.3 M308.3 307.1V304.3 M309.2 307.1V304.3" fill="none" stroke="#cc0b35" stroke-width="0.75"/>
<path d="M378.3 261.5 L379.1 261.7 L383.3 262.0 L384.3 262.4 L388.0 262.8 L394.9 262.8 L396.5 262.8 L396.5 264.9 L398.6 264.9 L398.6 267.5 L404.4 267.7 L407.1 267.7 L407.1 269.4 L409.7 270.2 L417.1 270.5 L418.7 270.5 L418.7 272.3 L420.8 272.3 L420.8 274.4 L424.5 275.5 L427.7 275.5 L427.7 277.6 L429.8 277.6 L429.8 279.7 L427.3 279.7 L427.3 278.0 L424.8 278.0 L424.8 276.3 L422.3 276.3 L422.3 274.5 L424.6 275.5 L426.3 275.5 L426.3 276.9 L428.1 276.9 L428.1 278.3 L429.2 280.1 L433.8 280.7 L435.0 281.2 L452.3 281.2 L453.4 282.4 L454.6 285.8 L458.1 286.4 L459.2 289.3 L480.0 289.3 L485.8 289.3" fill="none" stroke="#17518e" stroke-width="1.7" stroke-linejoin="miter"/>
<path d="M411.9 270.3V267.5 M434.4 280.9V278.1 M439.6 281.2V278.4 M442.5 281.2V278.4 M444.8 281.2V278.4 M446.5 281.2V278.4 M448.8 281.2V278.4 M451.1 281.2V278.4 M453.4 282.4V279.6 M455.8 286.0V283.2 M459.8 289.3V286.5 M461.5 289.3V286.5 M463.3 289.3V286.5 M465.0 289.3V286.5 M467.5 289.3V286.5 M471.2 289.3V286.5 M473.5 289.3V286.5 M475.2 289.3V286.5 M478.0 289.3V286.5 M485.6 289.3V286.5" fill="none" stroke="#17518e" stroke-width="0.75"/>
<path d="M378.3 261.5 L379.1 261.7 L388.0 261.7 L389.1 265.4 L392.8 265.9 L393.6 265.9 L393.6 267.5 L394.4 267.5 L394.4 269.1 L395.2 269.1 L395.2 271.0 L396.0 271.0 L396.0 272.8 L398.6 272.8 L398.6 274.9 L399.2 277.6 L405.5 277.6 L407.6 277.6 L407.6 280.2 L411.3 281.3 L413.4 281.3 L413.4 283.9 L416.1 283.9 L416.1 285.5 L418.2 285.5 L418.2 288.1 L420.3 288.1 L420.3 289.7 L420.0 289.3 L421.2 293.3 L431.5 293.3 L432.7 293.3 L432.7 295.1 L433.8 295.1 L433.8 296.8 L442.5 296.8 L443.4 296.8 L443.4 298.2 L444.2 298.2 L444.2 299.7 L445.4 299.7 L445.4 301.1 L446.5 301.1 L446.5 302.6 L450.0 302.6 L450.0 304.9 L454.6 305.4 L455.8 307.8 L462.7 308.3 L463.3 311.2 L470.7 311.2" fill="none" stroke="#cc0b35" stroke-width="1.7" stroke-linejoin="miter"/>
<path d="M444.8 300.4V297.6 M447.7 303.3V300.5 M450.0 304.9V302.1 M452.3 305.2V302.4 M454.6 305.4V302.6 M458.1 307.9V305.1 M459.8 308.1V305.3 M461.5 308.2V305.4 M464.4 311.2V308.4 M466.7 311.2V308.4 M469.0 311.2V308.4 M470.6 311.2V308.4" fill="none" stroke="#cc0b35" stroke-width="0.75"/>
<path d="M54.3 485.8 L70.1 485.8 L70.5 490.0 L72.0 490.0 L72.0 492.3 L72.4 497.7 L73.9 498.5 L74.3 503.1 L82.8 503.5 L83.5 506.9 L88.2 506.9 L88.9 511.2 L92.0 511.2 L93.8 511.5 L94.6 515.8 L95.0 520.4 L97.7 520.4 L98.5 528.8 L110.4 528.8 L111.2 537.3 L123.1 537.3 L123.5 542.3 L148.8 542.1" fill="none" stroke="#de7289" stroke-width="1.1" stroke-linejoin="miter"/>
<path d="M122.4 537.3V534.9 M130.1 542.3V539.9 M137.8 542.2V539.8 M139.7 542.2V539.8 M145.5 542.1V539.7 M148.8 542.1V539.7 M60.0 485.8V483.6 M122.7 537.3V535.1" fill="none" stroke="#de7289" stroke-width="0.75"/>
<path d="M54.3 485.8 L59.3 486.0 L59.5 487.2 L70.5 487.2 L72.9 487.2 L72.9 489.2 L73.6 489.2 L73.6 490.7 L74.3 490.7 L74.3 492.1 L80.6 492.4 L82.5 493.5 L84.4 493.5 L84.4 495.0 L89.2 495.9 L95.5 496.2 L96.4 498.3 L98.8 499.5 L102.7 499.5 L102.7 501.2 L106.5 501.2 L106.5 502.7 L109.4 502.7 L109.4 505.1 L112.3 505.1 L112.3 507.0 L120.0 507.2 L123.8 507.0 L126.7 508.0 L130.6 508.5 L132.0 508.9 L133.0 512.3 L134.4 512.3 L134.4 510.4 L136.8 511.3 L138.3 511.3 L138.3 513.8 L165.2 513.8" fill="none" stroke="#cc0b35" stroke-width="1.45" stroke-linejoin="miter"/>
<path d="M59.3 486.0V483.6 M82.0 493.2V490.9 M84.4 495.0V492.6 M88.8 495.8V493.4 M95.5 496.2V493.8 M106.1 502.5V500.1 M111.8 506.7V504.3 M118.1 507.1V504.7 M121.0 507.1V504.7 M122.9 507.1V504.7 M125.3 507.5V505.1 M127.7 508.1V505.7 M129.6 508.3V505.9 M131.5 508.8V506.4 M135.4 510.8V508.4 M137.8 512.9V510.5 M140.7 513.8V511.4 M143.1 513.8V511.4 M145.0 513.8V511.4 M146.9 513.8V511.4 M148.8 513.8V511.4 M151.2 513.8V511.4 M153.2 513.8V511.4 M157.0 513.8V511.4 M165.1 513.8V511.4" fill="none" stroke="#cc0b35" stroke-width="0.75"/>
<path d="M54.3 485.8 L97.6 485.8 L97.6 498.8 L133.5 498.8 L133.5 518.1 L146.0 518.1" fill="none" stroke="#749fc9" stroke-width="1.25" stroke-linejoin="miter"/>
<path d="M129.1 498.8V496.4 M131.1 498.8V496.4 M141.2 518.1V516.1 M145.9 518.1V516.1" fill="none" stroke="#749fc9" stroke-width="0.75"/>
<path d="M54.3 485.8 L63.5 485.8 L64.3 488.5 L65.5 493.1 L70.1 493.5 L71.2 497.7 L74.7 498.1 L75.8 502.3 L83.2 502.7 L83.9 504.6 L90.5 505.0 L91.2 509.2 L94.6 509.6 L95.4 511.5 L97.3 512.3 L97.7 514.2 L121.2 514.2 L121.4 515.2 L122.4 518.6 L126.2 518.6 L126.2 520.5 L127.2 523.4 L128.2 523.4 L128.2 524.8 L129.1 524.8 L129.1 526.2 L133.0 526.2 L133.7 526.2 L133.7 527.9 L134.4 527.9 L134.4 529.6 L142.1 530.1 L142.6 535.4 L150.3 535.4" fill="none" stroke="#17518e" stroke-width="1.55" stroke-linejoin="miter"/>
<path d="M126.2 520.5V518.1 M129.1 526.2V523.9 M132.5 526.2V523.9 M135.9 529.7V527.3 M138.8 529.9V527.5 M141.6 530.1V527.7 M144.5 535.4V533.0 M147.4 535.4V533.0 M150.2 535.4V533.0" fill="none" stroke="#17518e" stroke-width="0.75"/>
</svg>
</body></html>
